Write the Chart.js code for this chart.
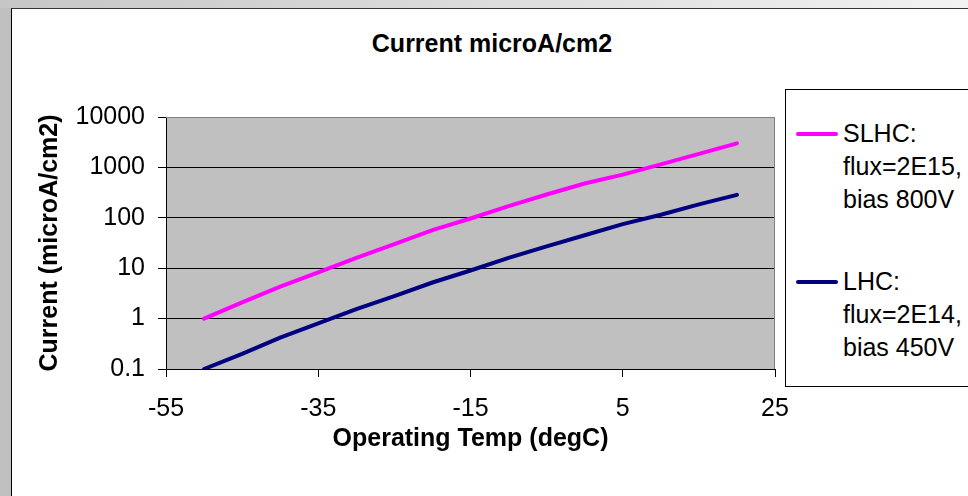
<!DOCTYPE html>
<html>
<head>
<meta charset="utf-8">
<script src="https://cdn.jsdelivr.net/npm/chart.js@4/dist/chart.umd.min.js"></script>
<style>
    body { margin: 0; width: 968px; height: 496px; overflow: hidden; position: relative;
           background: linear-gradient(to right, #c6c6c6, #f2f2f2); font-family: Arial, "Liberation Sans", sans-serif; }
    #band { position: absolute; left: 0; top: 8px; width: 11px; height: 500px; background: #c0c0c0; }
    #panel { position: absolute; left: 11px; top: 8px; width: 1000px; height: 600px; background: #fff;
             border-left: 1px solid #000; border-top: 1px solid #333; }
    #title { position: absolute; left: 0; top: 28px; width: 984px; text-align: center;
             font-weight: bold; font-size: 25px; line-height: 30px; color: #000; }
    #legend { position: absolute; left: 785px; top: 89px; width: 250px; height: 296px;
              border: 1px solid #000; background: #fff; }
    .entry { position: absolute; left: 0; font-size: 25px; line-height: 33px; color: #000; }
    .entry .swatch { position: absolute; left: 10px; top: 15px; width: 42px; height: 4px; border-radius: 2px; }
    .entry .text { position: absolute; left: 57px; top: 0; white-space: nowrap; }
    #wrap { position: absolute; left: 0; top: 0; width: 968px; height: 496px; }
</style>
</head>
<body>
<div id="band"></div>
<div id="panel"></div>
<div id="title">Current microA/cm2</div>
<div id="wrap"><canvas id="chart" width="968" height="496"></canvas></div>
<div id="legend"></div>

<script>
const temps = [-50, -45, -40, -35, -30, -25, -20, -15, -10, -5, 0, 5, 10, 15, 20];
const slhcCurrent = [1, 2.1, 4.3, 8.3, 16, 30, 57, 97, 170, 290, 480, 720, 1150, 1850, 3000];
const lhcCurrent = [0.1, 0.2, 0.42, 0.8, 1.55, 2.8, 5.2, 9, 16, 27, 45, 75, 115, 185, 285];

const xTickValues = [-55, -35, -15, 5, 25];
const yTickValues = [0.1, 1, 10, 100, 1000, 10000];
const yTickLabels = ['0.1', '1', '10', '100', '1000', '10000'];

const seriesNames = [
    ['SLHC:', 'flux=2E15,', 'bias 800V'],
    ['LHC:', 'flux=2E14,', 'bias 450V']
];
const seriesColors = ['#ff00ff', '#000080'];

// legend built by hand, Excel style box on the right
const legend = document.getElementById('legend');
const entryTops = [27, 175];
seriesNames.forEach((lines, i) => {
    const e = document.createElement('div');
    e.className = 'entry';
    e.style.top = entryTops[i] + 'px';
    e.innerHTML = `<span class="swatch" style="background:${seriesColors[i]}"></span>` +
                  `<span class="text">${lines.join('<br>')}</span>`;
    legend.appendChild(e);
});

const plotBackground = {
    id: 'plotBackground',
    beforeDraw(chart) {
        const { ctx, chartArea: a } = chart;
        ctx.save();
        ctx.fillStyle = '#c0c0c0';
        ctx.fillRect(a.left, a.top, a.right - a.left, a.bottom - a.top);
        ctx.restore();
    },
    beforeDatasetsDraw(chart) {
        const { ctx, chartArea: a } = chart;
        ctx.save();
        ctx.strokeStyle = '#808080';
        ctx.lineWidth = 1;
        ctx.beginPath();
        ctx.moveTo(a.left, a.top + 0.5);
        ctx.lineTo(a.right - 0.5, a.top + 0.5);
        ctx.lineTo(a.right - 0.5, a.bottom);
        ctx.stroke();
        ctx.restore();
    }
};

Chart.defaults.font.family = 'Arial, "Liberation Sans", sans-serif';
Chart.defaults.color = '#000';

const tickFont = { size: 25 };
const titleFont = { size: 25, weight: 'bold', lineHeight: 1.2 };

new Chart(document.getElementById('chart'), {
    type: 'line',
    data: {
        datasets: [
            {
                label: seriesNames[0].join(' '),
                data: temps.map((t, i) => ({ x: t, y: slhcCurrent[i] })),
                borderColor: seriesColors[0],
                borderWidth: 4,
                borderCapStyle: 'round',
                pointRadius: 0,
                tension: 0
            },
            {
                label: seriesNames[1].join(' '),
                data: temps.map((t, i) => ({ x: t, y: lhcCurrent[i] })),
                borderColor: seriesColors[1],
                borderWidth: 4,
                borderCapStyle: 'round',
                pointRadius: 0,
                tension: 0
            }
        ]
    },
    options: {
        responsive: false,
        animation: false,
        layout: { padding: { top: 117, right: 193, bottom: 0, left: 0 } },
        plugins: {
            legend: { display: false },
            title: { display: false },
            tooltip: { enabled: false }
        },
        scales: {
            x: {
                type: 'linear',
                min: -55,
                max: 25,
                afterBuildTicks: s => { s.ticks = xTickValues.map(v => ({ value: v })); },
                afterFit: s => { s.height = 127; },
                ticks: { font: tickFont, padding: 17, maxRotation: 0, autoSkip: false },
                grid: { drawOnChartArea: false, color: '#000', tickColor: '#000', tickLength: 8 },
                border: { color: '#000', width: 1 },
                title: { display: true, text: 'Operating Temp (degC)', font: titleFont, padding: { top: 0, bottom: 42 } }
            },
            y: {
                type: 'logarithmic',
                min: 0.1,
                max: 10000,
                afterBuildTicks: s => { s.ticks = yTickValues.map(v => ({ value: v })); },
                afterFit: s => { s.width = 166; },
                ticks: {
                    font: tickFont,
                    padding: 13,
                    autoSkip: false,
                    callback: (val) => yTickLabels[yTickValues.indexOf(val)] ?? ''
                },
                grid: {
                    color: ctx => (ctx.tick && ctx.tick.value === 10000) ? '#808080' : '#000',
                    tickColor: '#000',
                    tickLength: 8
                },
                border: { color: '#000', width: 1 },
                title: { display: true, text: 'Current (microA/cm2)', font: titleFont, padding: { top: 35, bottom: 0 } }
            }
        }
    },
    plugins: [plotBackground]
});
</script>
</body>
</html>
